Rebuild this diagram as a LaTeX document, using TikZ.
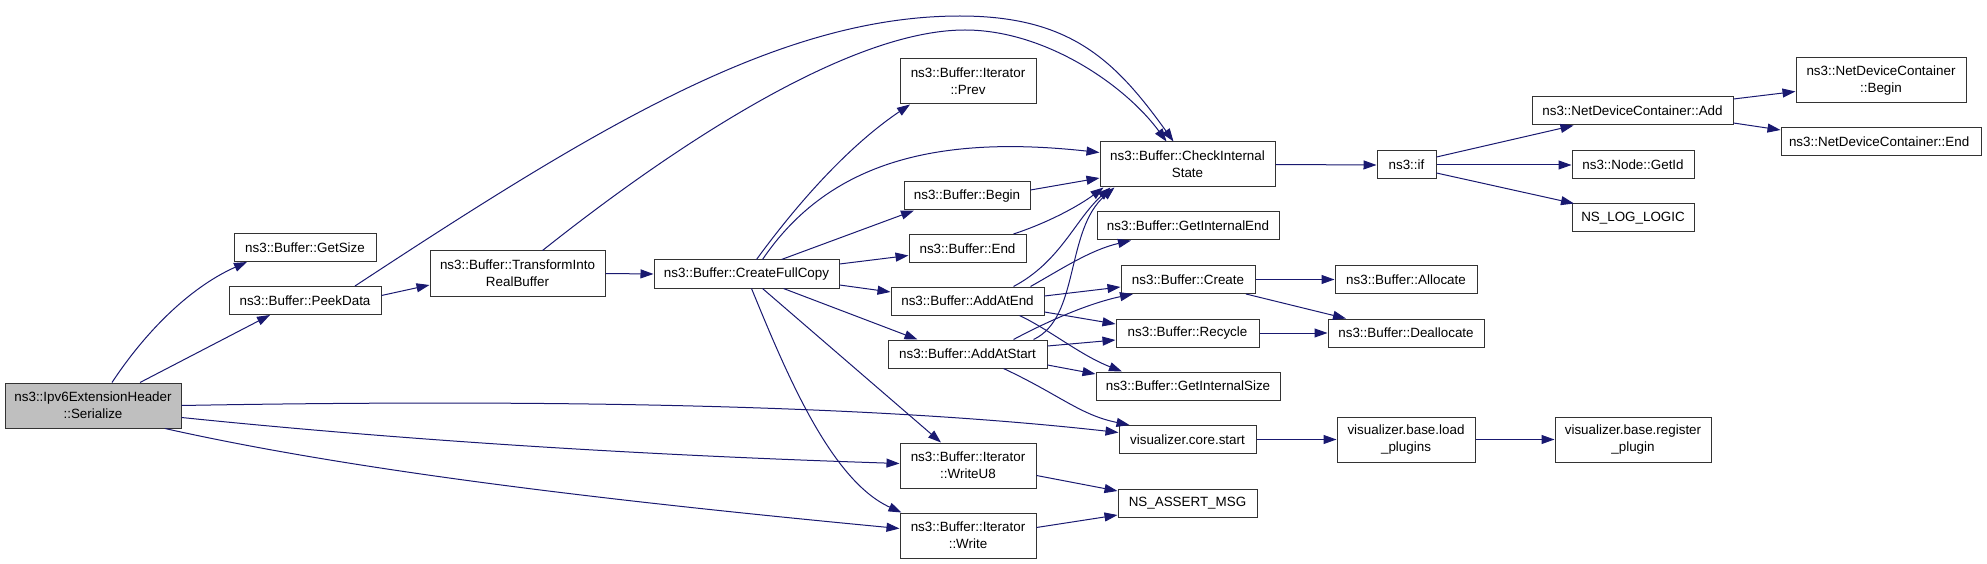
\documentclass[tikz,border=0pt]{standalone}
\usepackage{fontspec}
\setmainfont{Liberation Sans}
\usetikzlibrary{arrows.meta}
\definecolor{callblue}{HTML}{191970}
\definecolor{rootgray}{HTML}{BFBFBF}
\begin{document}
\begin{tikzpicture}[x=1pt, y=-1pt,
    box/.style={draw=black!80, line width=1pt, fill=white, inner sep=0pt, align=center,
        font=\fontsize{13.4}{16.7}\selectfont},
    call/.style={draw=callblue, line width=1pt, -{Triangle[length=13pt,width=9pt]}}]
    \useasboundingbox (0,0) rectangle (1987,564);

    % Root of the graph
    \node[box, fill=rootgray, minimum width=176pt, minimum height=45pt] (ser) at (93,405.5)
        {ns3::Ipv6ExtensionHeader\\::Serialize};

    % All other functions: name/x/y/width/height/text
    \def\calllist{
        getsize/305/247.5/142/28/{ns3::Buffer::GetSize},
        peek/305/300.5/152/28/{ns3::Buffer::PeekData},
        trans/517.5/273.5/175/45/{ns3::Buffer::TransformInto\\RealBuffer},
        copy/746.5/274/185/28/{ns3::Buffer::CreateFullCopy},
        prev/968/81.5/136/45/{ns3::Buffer::Iterator\\::Prev},
        begin/967/196/126/28/{ns3::Buffer::Begin},
        bufend/967.5/248.5/117/28/{ns3::Buffer::End},
        addend/967.5/301/153/28/{ns3::Buffer::AddAtEnd},
        addstart/967.5/354/159/28/{ns3::Buffer::AddAtStart},
        wru8/968/465.5/136/45/{ns3::Buffer::Iterator\\::WriteU8},
        wr/968/535.5/136/45/{ns3::Buffer::Iterator\\::Write},
        check/1187.5/164.5/175/45/{ns3::Buffer::CheckInternal\\State},
        intend/1188/226/182/28/{ns3::Buffer::GetInternalEnd},
        create/1188/279.5/134/28/{ns3::Buffer::Create},
        recycle/1187.5/333/143/28/{ns3::Buffer::Recycle},
        intsize/1188/386/184/28/{ns3::Buffer::GetInternalSize},
        vstart/1187.5/439.5/137/28/{visualizer.core.start},
        assert/1187.5/503/139/28/{NS\_ASSERT\_MSG},
        nsif/1406.5/165/59/28/{ns3::if},
        alloc/1406/279.5/142/28/{ns3::Buffer::Allocate},
        dealloc/1406/333/156/28/{ns3::Buffer::Deallocate},
        loadpl/1406/439.5/138/45/{visualizer.base.load\\\_plugins},
        ndcadd/1632.5/111/201/28/{ns3::NetDeviceContainer::Add},
        getid/1633/165/122/28/{ns3::Node::GetId},
        loglogic/1633/218/122/28/{NS\_LOG\_LOGIC},
        regpl/1633/439.5/156/45/{visualizer.base.register\\\_plugin},
        ndcbegin/1881/80.5/170/45/{ns3::NetDeviceContainer\\::Begin},
        ndcend/1881/142/200/28/{ns3::NetDeviceContainer::End}
    }
    \foreach \nm/\cx/\cy/\bw/\bh/\txt in \calllist {
        \node[box, minimum width=\bw pt, minimum height=\bh pt] (\nm) at (\cx,\cy) {\txt};
    }

    % Calls from Serialize
    \draw[call] ([xshift=19pt]ser.north) .. controls (150,325) and (195,285) .. ([xshift=-58pt]getsize.south);
    \draw[call] ([xshift=47pt]ser.north) -- ([xshift=-35pt]peek.south);
    \draw[call] (ser.east) .. controls (600,398) and (900,408) .. ([yshift=7pt]vstart.west);
    \draw[call] ([yshift=-12pt]ser.east) .. controls (450,445) and (700,457) .. ([yshift=2pt]wru8.west);
    \draw[call] ([xshift=72pt]ser.south) .. controls (350,470) and (600,500) .. ([yshift=7pt]wr.west);

    % PeekData and TransformIntoRealBuffer
    \draw[call] ([xshift=50pt]peek.north) .. controls (600,125) and (780,16) .. (960,16)
        .. controls (1070,16) and (1115,60) .. ([xshift=-14pt]check.north);
    \draw[call] ([yshift=5pt]peek.east) -- ([yshift=-11.5pt]trans.west);
    \draw[call] ([xshift=25pt]trans.north) .. controls (650,165) and (840,30) .. (965,30)
        .. controls (1045,30) and (1125,85) .. ([xshift=-21pt]check.north);
    \draw[call] (trans.east) -- (copy.west);

    % CreateFullCopy
    \draw[call] ([xshift=10pt]copy.north) .. controls (800,200) and (850,145) .. ([xshift=-58pt]prev.south);
    \draw[call] ([xshift=16pt]copy.north) .. controls (830,160) and (940,135) .. ([yshift=12pt]check.west);
    \draw[call] ([xshift=35pt]copy.north) -- ([xshift=-53pt]begin.south);
    \draw[call] ([yshift=10pt]copy.east) -- ([yshift=-7pt]bufend.west);
    \draw[call] ([yshift=-11pt]copy.east) -- ([yshift=9pt]addend.west);
    \draw[call] ([xshift=37pt]copy.south) -- ([xshift=-50pt]addstart.north);
    \draw[call] ([xshift=16pt]copy.south) -- ([xshift=-27pt]wru8.north);
    \draw[call] ([xshift=5pt]copy.south) .. controls (785,370) and (830,480) .. ([xshift=2pt]wr.north west);

    % Begin, End, AddAtEnd, AddAtStart
    \draw[call] ([yshift=6pt]begin.east) -- ([yshift=-13.5pt]check.west);
    \draw[call] ([xshift=46pt]bufend.north) .. controls (1050,222) and (1080,205) .. ([xshift=4pt]check.south west);
    \draw[call] ([xshift=46pt]addend.north) .. controls (1060,262) and (1075,220) .. ([xshift=11pt]check.south west);
    \draw[call] ([xshift=63pt]addend.north) .. controls (1060,270) and (1090,250) .. ([xshift=-57pt]intend.south);
    \draw[call] ([yshift=5pt]addend.east) -- ([yshift=-7.5pt]create.west);
    \draw[call] ([yshift=-11pt]addend.east) -- ([yshift=9pt]recycle.west);
    \draw[call] ([xshift=52pt]addend.south) .. controls (1050,330) and (1080,355) .. ([xshift=-66pt]intsize.north);
    \draw[call] ([xshift=46pt]addstart.north) .. controls (1050,320) and (1090,303) .. ([xshift=-55pt]create.south);
    \draw[call] ([xshift=66pt]addstart.north) .. controls (1080,318) and (1065,230) .. ([xshift=15pt]check.south west);
    \draw[call] ([yshift=8pt]addstart.east) -- ([yshift=-7pt]recycle.west);
    \draw[call] ([yshift=-11pt]addstart.east) -- ([yshift=12pt]intsize.west);
    \draw[call] ([xshift=36pt]addstart.south) .. controls (1060,395) and (1080,415) .. ([xshift=-58pt]vstart.north);

    % Third column onwards
    \draw[call] (create.east) -- (alloc.west);
    \draw[call] ([xshift=58pt]create.south) -- ([xshift=-60pt]dealloc.north);
    \draw[call] (recycle.east) -- (dealloc.west);
    \draw[call] (check.east) -- (nsif.west);
    \draw[call] ([yshift=8pt]nsif.east) -- ([xshift=-59pt]ndcadd.south);
    \draw[call] (nsif.east) -- (getid.west);
    \draw[call] ([yshift=-8pt]nsif.east) -- ([xshift=-59pt]loglogic.north);
    \draw[call] ([yshift=12pt]ndcadd.east) -- ([yshift=-11pt]ndcbegin.west);
    \draw[call] ([yshift=-12pt]ndcadd.east) -- ([yshift=12pt]ndcend.west);
    \draw[call] (vstart.east) -- (loadpl.west);
    \draw[call] (loadpl.east) -- (regpl.west);
    \draw[call] ([yshift=-10pt]wru8.east) -- ([yshift=12pt]assert.west);
    \draw[call] ([yshift=8pt]wr.east) -- ([yshift=-12pt]assert.west);
\end{tikzpicture}
\end{document}
